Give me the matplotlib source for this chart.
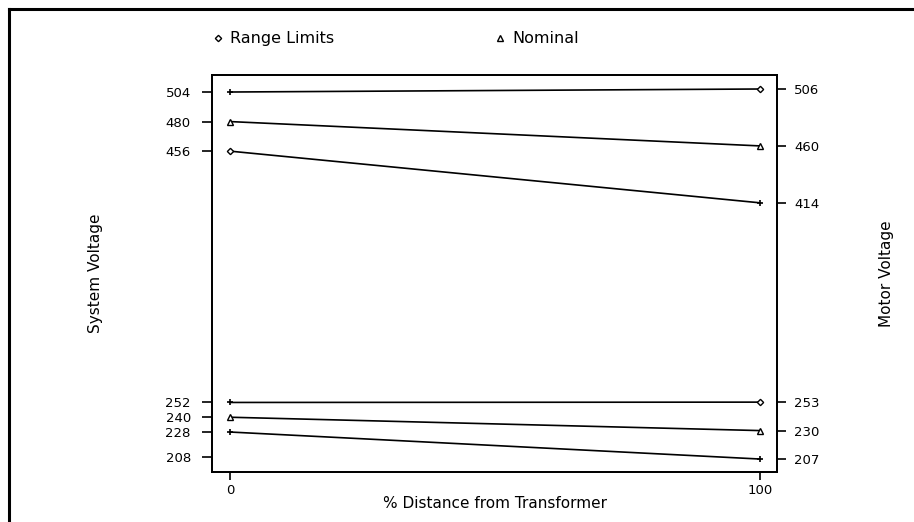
import numpy as np
import matplotlib
matplotlib.use('Agg')
import matplotlib.pyplot as plt
from matplotlib.lines import Line2D

# Data
dist = [0, 100]
system_v = [504, 480, 456, 252, 240, 228]      # left axis values (0 %)
motor_v = [506, 460, 414, 253, 230, 207]       # right axis values (100 %)
series = ['range', 'nominal', 'range', 'range', 'nominal', 'range']
left_marks = ['+', '^', 'D', '+', '^', '+']
right_marks = ['D', '^', '+', 'D', '^', '+']
left_ticks = [504, 480, 456, 252, 240, 228, 208]
right_ticks = [506, 460, 414, 253, 230, 207]
legend_labels = ['Range Limits', 'Nominal']
legend_marks = ['D', '^']

plt.rcParams['font.family'] = 'DejaVu Sans'

fig = plt.figure(figsize=(9.14, 5.22), dpi=100)
ax = fig.add_axes([0.2323, 0.0952, 0.6182, 0.7611])
ax2 = ax.twinx()

ax.set_xlim(-3.34, 103.2)
ax.set_ylim(195.3, 517.8)
ax2.set_ylim(196.3, 517.3)


def marker_style(m):
    if m == '+':
        return dict(marker='+', ms=5, mew=1.2, color='black')
    return dict(marker=m, ms=3.2 if m == 'D' else 5, mfc='white', mec='black', mew=1.0)


fig.canvas.draw()
for sv, mv, s, lm, rm in zip(system_v, motor_v, series, left_marks, right_marks):
    # right end is given in motor-voltage units; bring it into the left axis
    disp = ax2.transData.transform((dist[1], mv))
    mv_left = ax.transData.inverted().transform(disp)[1]
    ax.plot(dist, [sv, mv_left], color='black', lw=1.2, zorder=2)
    ax.plot(dist[0], sv, ls='none', zorder=3, **marker_style(lm))
    ax.plot(dist[1], mv_left, ls='none', zorder=3, **marker_style(rm))

ax.set_xticks([0, 100])
ax.set_xticklabels(['0', '100'])
ax.set_yticks(left_ticks)
ax.set_yticklabels([str(t) for t in left_ticks])
ax2.set_yticks(right_ticks)
ax2.set_yticklabels([str(t) for t in right_ticks])

for a in (ax, ax2):
    a.tick_params(direction='out', width=1.2, labelsize=9.5, colors='black')
    for sp in a.spines.values():
        sp.set_linewidth(1.3)
ax.tick_params(axis='y', length=7.5, pad=8)
ax2.tick_params(axis='y', length=6.5, pad=5.5)
ax.tick_params(axis='x', length=6, pad=2.5)

ax.set_xlabel('% Distance from Transformer', fontsize=11)
ax.xaxis.set_label_coords(0.5, -0.06)
ax.set_ylabel('System Voltage', fontsize=11)
ax.yaxis.set_label_coords(-0.193, 0.5)
ax2.set_ylabel('Motor Voltage', fontsize=11)
ax2.yaxis.set_label_coords(1.18, 0.5)

# legend row above the plot
leg_x = [218 / 914, 500 / 914]
for lx, lab, m in zip(leg_x, legend_labels, legend_marks):
    fig.add_artist(Line2D([lx], [0.927], transform=fig.transFigure, ls='none',
                          **marker_style(m)))
    fig.text(lx + 0.013, 0.927, lab, fontsize=11.5, va='center', ha='left')

# outer frame (left and top edges only visible)
fig.add_artist(Line2D([0.0098, 0.0098], [0, 0.983], transform=fig.transFigure,
                      color='black', lw=2.2))
fig.add_artist(Line2D([0.0098, 1.0], [0.983, 0.983], transform=fig.transFigure,
                      color='black', lw=2.2))

fig.savefig('out.png', dpi=100)
